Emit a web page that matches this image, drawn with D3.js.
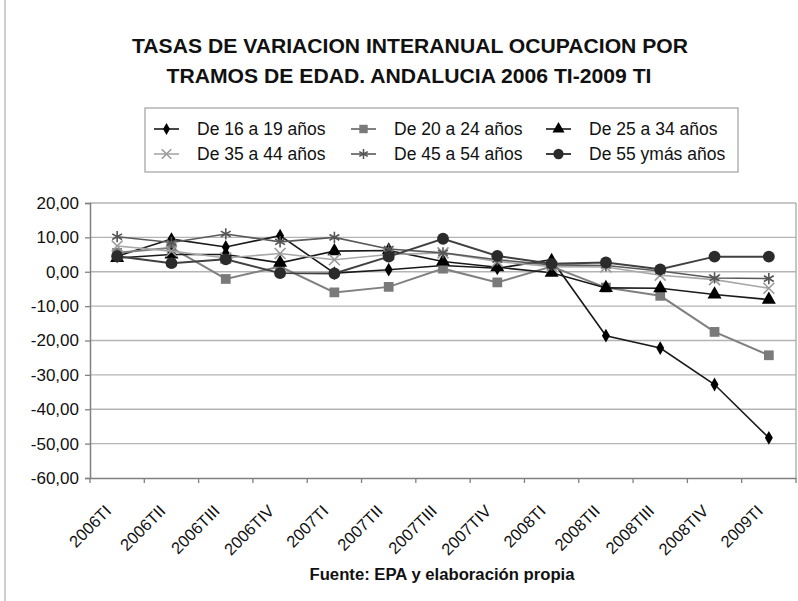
<!DOCTYPE html>
<html>
<head>
<meta charset="utf-8">
<script src="https://cdn.jsdelivr.net/npm/d3@7"></script>
<style>
  body { margin: 0; background: #fff; }
  svg { display: block; font-family: "Liberation Sans", Arial, sans-serif; }
</style>
</head>
<body>
<div id="chart"></div>
<script>
// categories (quarters)
let categories = ["2006TI", "2006TII", "2006TIII", "2006TIV", "2007TI", "2007TII", "2007TIII",
	"2007TIV", "2008TI", "2008TII", "2008TIII", "2008TIV", "2009TI"];

// series values
let de16a19 = [4.5, 9.5, 7.2, 10.5, -0.4, 0.6, 1.8, 1.0, 3.5, -18.6, -22.2, -32.8, -48.3];
let de20a24 = [5.5, 7.0, -2.1, 1.5, -6.0, -4.4, 0.9, -3.1, 1.5, -4.6, -7.0, -17.5, -24.3];
let de25a34 = [4.0, 5.0, 5.0, 2.6, 6.0, 6.2, 3.0, 1.3, -0.3, -4.7, -4.8, -6.6, -8.1];
let de35a44 = [7.5, 6.0, 4.0, 5.3, 3.5, 5.0, 5.5, 3.0, 1.5, 1.4, -1.0, -2.3, -4.8];
let de45a54 = [10.2, 8.5, 11.0, 8.7, 10.0, 6.6, 5.5, 3.5, 2.0, 1.8, 0.2, -1.8, -2.0];
let de55ymas = [4.5, 2.5, 3.6, -0.4, -0.5, 4.4, 9.6, 4.6, 2.3, 2.7, 0.7, 4.4, 4.4];

let seriesNames = ["De 16 a 19 años", "De 20 a 24 años", "De 25 a 34 años",
	"De 35 a 44 años", "De 45 a 54 años", "De 55 ymás años"];

let yTicks = [-60, -50, -40, -30, -20, -10, 0, 10, 20];

let W = 798, H = 601;
let plotL = 90, plotR = 796, plotT = 203, plotB = 478;

let series = [
	{ name: seriesNames[0], values: de16a19, stroke: "#1a1a1a", width: 1.6, sym: d3.symbolDiamond, size: 55, fill: "#000", mstroke: "none" },
	{ name: seriesNames[1], values: de20a24, stroke: "#808080", width: 2, sym: d3.symbolSquare, size: 95, fill: "#7a7a7a", mstroke: "none" },
	{ name: seriesNames[2], values: de25a34, stroke: "#1a1a1a", width: 1.6, sym: d3.symbolTriangle, size: 85, fill: "#000", mstroke: "none" },
	{ name: seriesNames[3], values: de35a44, stroke: "#a8a8a8", width: 1.6, sym: d3.symbolX, size: 80, fill: "none", mstroke: "#999" },
	{ name: seriesNames[4], values: de45a54, stroke: "#5a5a5a", width: 1.6, sym: d3.symbolAsterisk, size: 90, fill: "none", mstroke: "#555" },
	{ name: seriesNames[5], values: de55ymas, stroke: "#404040", width: 2, sym: d3.symbolCircle, size: 110, fill: "#2b2b2b", mstroke: "none" }
];

let svg = d3.select("#chart").append("svg")
	.attr("width", W)
	.attr("height", H);

// outer chart frame (only left edge visible in the crop)
svg.append("line")
	.attr("x1", 5).attr("x2", 5).attr("y1", 0).attr("y2", H)
	.attr("stroke", "#a0a0a0").attr("stroke-width", 1);

// title
let title = svg.append("g").attr("font-weight", "bold").attr("fill", "#111");
title.append("text")
	.attr("x", 410).attr("y", 53)
	.attr("text-anchor", "middle")
	.attr("font-size", 21)
	.attr("textLength", 556).attr("lengthAdjust", "spacingAndGlyphs")
	.text("TASAS DE VARIACION INTERANUAL OCUPACION POR");
title.append("text")
	.attr("x", 409).attr("y", 83)
	.attr("text-anchor", "middle")
	.attr("font-size", 21)
	.attr("textLength", 485).attr("lengthAdjust", "spacingAndGlyphs")
	.text("TRAMOS DE EDAD. ANDALUCIA 2006 TI-2009 TI");

let x = d3.scaleBand().domain(categories).range([plotL, plotR]).padding(0);
let y = d3.scaleLinear().domain([-60, 20]).range([plotB, plotT]);
let cx = (c) => x(c) + x.bandwidth() / 2;

// gridlines
svg.append("g")
	.selectAll("line")
	.data(yTicks.filter(t => t > -60))
	.enter().append("line")
	.attr("x1", plotL).attr("x2", plotR)
	.attr("y1", d => y(d)).attr("y2", d => y(d))
	.attr("stroke", "#b4b4b4").attr("stroke-width", 1.3);

// right border of plot area
svg.append("line")
	.attr("x1", plotR).attr("x2", plotR).attr("y1", plotT).attr("y2", plotB)
	.attr("stroke", "#a8a8a8").attr("stroke-width", 1.3);

// y axis
let yAxis = svg.append("g")
	.attr("transform", `translate(${plotL},0)`)
	.call(d3.axisLeft(y).tickValues(yTicks).tickSize(5).tickPadding(6)
		.tickFormat(d => d.toFixed(2).replace(".", ",")));
yAxis.select(".domain").attr("stroke", "#808080").attr("stroke-width", 1.5);
yAxis.selectAll(".tick line").attr("stroke", "#808080").attr("stroke-width", 1.3);
yAxis.selectAll("text")
	.attr("font-size", 17).attr("fill", "#111")
	.attr("font-family", "\"Liberation Sans\", Arial, sans-serif");

// x axis: labels at category centres, ticks at category boundaries
let xAxis = svg.append("g")
	.attr("transform", `translate(0,${plotB})`)
	.call(d3.axisBottom(x).tickSize(0).tickPadding(0));
xAxis.select(".domain").attr("stroke", "#808080").attr("stroke-width", 1.5);
xAxis.selectAll("text")
	.attr("font-size", 16.5).attr("fill", "#111")
	.attr("font-family", "\"Liberation Sans\", Arial, sans-serif")
	.attr("text-anchor", "end")
	.attr("y", 0).attr("dy", "0.35em")
	.attr("transform", "translate(-9,30) rotate(-45)");

svg.append("g")
	.selectAll("line")
	.data(categories.map(c => x(c)).concat([plotR]))
	.enter().append("line")
	.attr("x1", d => d).attr("x2", d => d)
	.attr("y1", plotB).attr("y2", plotB + 5)
	.attr("stroke", "#808080").attr("stroke-width", 1.3);

// series
let line = d3.line()
	.x((d, i) => cx(categories[i]))
	.y(d => y(d));

series.forEach(s => {
	let g = svg.append("g");
	g.append("path")
		.datum(s.values)
		.attr("d", line)
		.attr("fill", "none")
		.attr("stroke", s.stroke)
		.attr("stroke-width", s.width);
	g.selectAll("path.mk")
		.data(s.values)
		.enter().append("path")
		.attr("class", "mk")
		.attr("d", d3.symbol(s.sym, s.size))
		.attr("transform", (d, i) => `translate(${cx(categories[i])},${y(d)})`)
		.attr("fill", s.fill)
		.attr("stroke", s.mstroke)
		.attr("stroke-width", 1.6);
});

// legend
let legend = svg.append("g");
legend.append("rect")
	.attr("x", 145).attr("y", 108)
	.attr("width", 593).attr("height", 64)
	.attr("fill", "#fff").attr("stroke", "#a0a0a0").attr("stroke-width", 1.2);

let colX = [154, 351, 546];
let rowY = [129, 154];

series.forEach((s, i) => {
	let lx = colX[i % 3], ly = rowY[Math.floor(i / 3)];
	let item = legend.append("g");
	item.append("line")
		.attr("x1", lx).attr("x2", lx + 25)
		.attr("y1", ly).attr("y2", ly)
		.attr("stroke", s.stroke).attr("stroke-width", s.width);
	item.append("path")
		.attr("d", d3.symbol(s.sym, s.size * 0.75))
		.attr("transform", `translate(${lx + 12.5},${ly})`)
		.attr("fill", s.fill)
		.attr("stroke", s.mstroke)
		.attr("stroke-width", 1.5);
	item.append("text")
		.attr("x", lx + 43).attr("y", ly)
		.attr("dy", "0.35em")
		.attr("font-size", 17.5)
		.attr("fill", "#111")
		.text(s.name);
});

// source note
svg.append("text")
	.attr("x", 442).attr("y", 580)
	.attr("text-anchor", "middle")
	.attr("font-size", 16).attr("font-weight", "bold").attr("fill", "#111")
	.attr("textLength", 265).attr("lengthAdjust", "spacingAndGlyphs")
	.text("Fuente: EPA y elaboración propia");
</script>
</body>
</html>
